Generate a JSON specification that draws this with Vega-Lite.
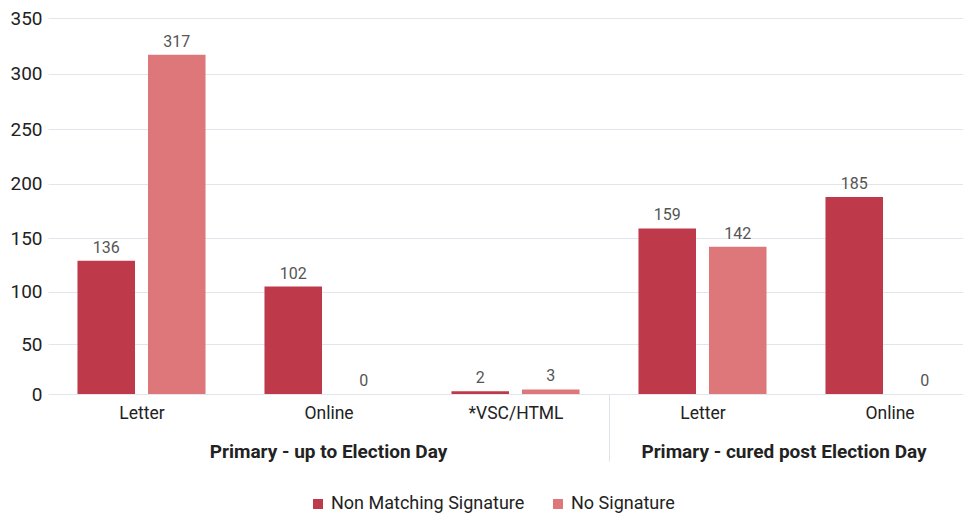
{
  "$schema": "https://vega.github.io/schema/vega-lite/v6.json",
  "autosize": {"type": "none"},
  "padding": {"left": 48, "top": 18, "right": 0, "bottom": 123},
  "width": 915,
  "height": 376,
  "background": "white",
  "config": {
    "view": {"stroke": null},
    "font": "Roboto"
  },
  "datasets": {
    "bars": [
      {"key": "1|Letter", "series": "Non Matching Signature", "value": 129, "label": "136"},
      {"key": "1|Letter", "series": "No Signature", "value": 317, "label": "317"},
      {"key": "1|Online", "series": "Non Matching Signature", "value": 105, "label": "102"},
      {"key": "1|Online", "series": "No Signature", "value": 0, "label": "0"},
      {"key": "1|*VSC/HTML", "series": "Non Matching Signature", "value": 3, "label": "2"},
      {"key": "1|*VSC/HTML", "series": "No Signature", "value": 5, "label": "3"},
      {"key": "2|Letter", "series": "Non Matching Signature", "value": 159, "label": "159"},
      {"key": "2|Letter", "series": "No Signature", "value": 142, "label": "142"},
      {"key": "2|Online", "series": "Non Matching Signature", "value": 188, "label": "185"},
      {"key": "2|Online", "series": "No Signature", "value": 0, "label": "0"}
    ],
    "groups1": [{"key": "1|Online", "group": "Primary - up to Election Day", "value": 0}],
    "groups2": [{"key": "2|Online", "group": "Primary - cured post Election Day", "value": 0}]
  },
  "layer": [
    {
      "data": {"name": "bars"},
      "mark": {"type": "bar"},
      "encoding": {
        "x": {
          "field": "key",
          "type": "nominal",
          "scale": {
            "domain": ["1|Letter", "1|Online", "1|*VSC/HTML", "2|Letter", "2|Online"],
            "range": [0, 935],
            "paddingInner": 0,
            "paddingOuter": 0
          },
          "axis": {
            "title": null,
            "domain": false,
            "labelAngle": 0,
            "labelExpr": "split(datum.value, '|')[1]",
            "labelFontSize": 17.5,
            "labelColor": "#222",
            "labelPadding": -57,
            "tickBand": "extent",
            "tickSize": 67,
            "tickWidth": 1,
            "tickColor": {"condition": {"test": "datum.value === '1|*VSC/HTML'", "value": "#dde3ea"}, "value": "transparent"}
          }
        },
        "y": {
          "field": "value",
          "type": "quantitative",
          "scale": {"type": "pow", "exponent": 1.04, "domain": [0, 350]},
          "axis": {
            "title": null,
            "domain": false,
            "ticks": false,
            "values": [0, 50, 100, 150, 200, 250, 300, 350],
            "labelFontSize": 19,
            "labelColor": "#222",
            "labelPadding": 6,
            "gridColor": "#e1e6ed",
            "gridWidth": 1
          }
        },
        "xOffset": {"field": "series", "type": "nominal", "sort": ["Non Matching Signature", "No Signature"], "scale": {"paddingInner": 0.184, "paddingOuter": 0.418}},
        "color": {
          "field": "series",
          "type": "nominal",
          "sort": ["Non Matching Signature", "No Signature"],
          "scale": {"domain": ["Non Matching Signature", "No Signature"], "range": ["#be3a4a", "#dd7779"]},
          "legend": {
            "title": null,
            "orient": "none",
            "direction": "horizontal",
            "legendX": 261,
            "legendY": 477,
            "symbolType": "square",
            "symbolSize": 100,
            "symbolStrokeWidth": 0,
            "labelFontSize": 18,
            "labelColor": "#222",
            "labelOffset": 4,
            "labelLimit": 400,
            "columnPadding": 24
          }
        }
      }
    },
    {
      "data": {"name": "bars"},
      "mark": {"type": "text", "baseline": "bottom", "dy": -5, "fontSize": 16, "color": "#555"},
      "encoding": {
        "x": {"field": "key", "type": "nominal"},
        "y": {"field": "value", "type": "quantitative"},
        "xOffset": {"field": "series", "type": "nominal", "sort": ["Non Matching Signature", "No Signature"]},
        "text": {"field": "label"}
      }
    },
    {
      "data": {"name": "groups1"},
      "mark": {"type": "text", "baseline": "middle", "dy": 58, "fontSize": 19, "fontWeight": "bold", "color": "#222"},
      "encoding": {
        "x": {"field": "key", "type": "nominal"},
        "y": {"field": "value", "type": "quantitative"},
        "text": {"field": "group"}
      }
    },
    {
      "data": {"name": "groups2"},
      "mark": {"type": "text", "baseline": "middle", "dy": 58, "dx": -12, "fontSize": 19, "fontWeight": "bold", "color": "#222"},
      "encoding": {
        "x": {"field": "key", "type": "nominal", "bandPosition": 0},
        "y": {"field": "value", "type": "quantitative"},
        "text": {"field": "group"}
      }
    }
  ]
}
